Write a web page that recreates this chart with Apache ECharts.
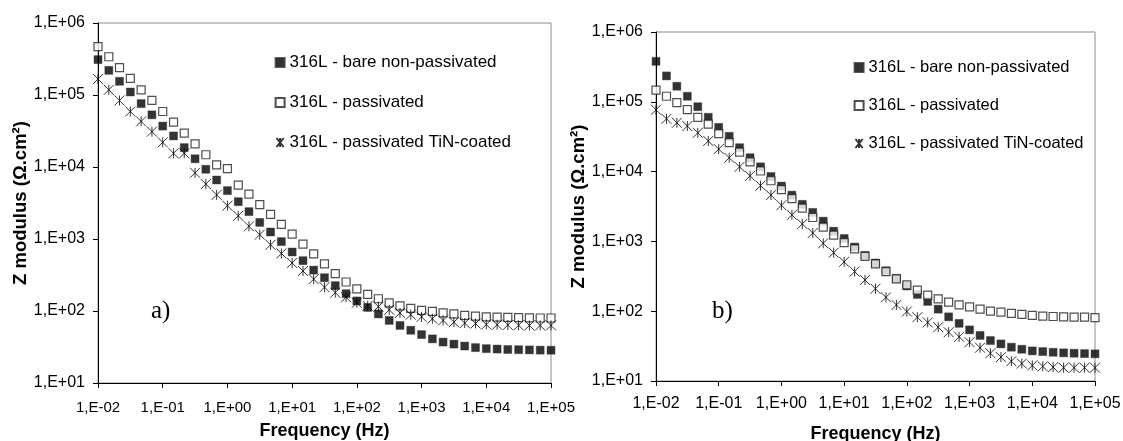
<!DOCTYPE html>
<html>
<head>
<meta charset="utf-8">
<script src="https://cdn.jsdelivr.net/npm/echarts@6/dist/echarts.min.js"></script>
<style>
  html, body { margin: 0; padding: 0; background: #fff; }
  #chart { width: 1123px; height: 441px; }
</style>
</head>
<body>
<div id="chart"></div>
<script>
/* frecuencias (Hz), 6 puntos por decada */
const freq = [
    0.01, 0.0147, 0.0215, 0.0316, 0.0464, 0.0681,
    0.1, 0.147, 0.215, 0.316, 0.464, 0.681,
    1, 1.47, 2.15, 3.16, 4.64, 6.81,
    10, 14.7, 21.5, 31.6, 46.4, 68.1,
    100, 147, 215, 316, 464, 681,
    1000, 1470, 2150, 3160, 4640, 6810,
    10000, 14700, 21500, 31600, 46400, 68100,
    100000
];

const seriesNames = ['316L - bare non-passivated', '316L - passivated', '316L - passivated TiN-coated'];

const xTickLabels = ['1,E-02', '1,E-01', '1,E+00', '1,E+01', '1,E+02', '1,E+03', '1,E+04', '1,E+05'];
const yTickLabels = ['1,E+01', '1,E+02', '1,E+03', '1,E+04', '1,E+05', '1,E+06'];

/* panel a) */
const bareA = [
    3.1e5, 2.2e5, 1.55e5, 1.1e5, 7.6e4, 5.3e4, 3.7e4, 2.7e4, 1.86e4, 1.3e4,
    9.3e3, 6.6e3, 4.7e3, 3.3e3, 2.4e3, 1.7e3, 1.25e3, 920, 660, 500,
    370, 290, 225, 174, 138, 112, 91, 74, 63, 54,
    47, 41, 37, 34.7, 32.6, 31, 30, 29.6, 29.2, 29,
    28.8, 28.6, 28.5
];
const passA = [
    4.7e5, 3.4e5, 2.4e5, 1.7e5, 1.18e5, 8.4e4, 5.9e4, 4.2e4, 2.95e4, 2.1e4,
    1.48e4, 1.07e4, 9.5e3, 5.6e3, 4.2e3, 3.0e3, 2.2e3, 1.6e3, 1.17e3, 850,
    620, 450, 330, 253, 203, 170, 148, 130, 118, 109,
    102, 99, 94, 91, 87, 85, 83, 82, 81.5, 81,
    80.5, 80, 80
];
const tinA = [
    1.67e5, 1.18e5, 8.4e4, 5.9e4, 4.3e4, 3.1e4, 2.2e4, 1.55e4, 1.55e4, 8.3e3,
    5.8e3, 4.1e3, 2.9e3, 2.1e3, 1.5e3, 1.15e3, 830, 630, 465, 360,
    277, 214, 180, 155, 130, 118, 115, 104, 94, 89,
    83, 78, 74, 70, 68, 67, 65, 64.5, 64, 63.5,
    63, 63, 63
];

/* panel b) */
const bareB = [
    3.8e5, 2.35e5, 1.67e5, 1.2e5, 8.5e4, 6.0e4, 4.3e4, 3.2e4, 2.2e4, 1.58e4,
    1.17e4, 8.5e3, 6.2e3, 4.6e3, 3.4e3, 2.6e3, 1.95e3, 1.4e3, 1.1e3, 830,
    630, 490, 380, 295, 230, 174, 138, 107, 83, 67,
    54, 45, 38, 34, 30.5, 28.5, 27, 26.4, 25.8, 25.3,
    25, 24.7, 24.5
];
const passB = [
    1.47e5, 1.2e5, 9.7e4, 7.7e4, 6.0e4, 4.8e4, 3.5e4, 2.6e4, 1.9e4, 1.38e4,
    1.02e4, 7.4e3, 5.5e3, 4.1e3, 3.0e3, 2.2e3, 1.6e3, 1.23e3, 960, 780,
    610, 475, 370, 290, 238, 200, 170, 150, 135, 123,
    115, 107, 100, 97, 93, 90, 87, 85, 84, 83,
    82, 82, 81
];
const tinB = [
    7.7e4, 5.7e4, 5.0e4, 4.5e4, 3.6e4, 2.75e4, 2.1e4, 1.58e4, 1.17e4, 8.7e3,
    6.3e3, 4.6e3, 3.3e3, 2.4e3, 1.78e3, 1.32e3, 940, 690, 510, 370,
    280, 210, 158, 123, 99, 82, 69, 59, 50, 43,
    36, 30, 25, 22, 19.2, 17.8, 16.7, 16.2, 15.8, 15.5,
    15.5, 15.5, 15.5
];

const FONT = "'Liberation Sans', Arial, sans-serif";
const STAR = 'path://M1,0L9,10M1,10L9,0M5,0L5,10';

function toPairs(vals) {
    return freq.map((f, i) => [f, vals[i]]);
}

function xLabel(v) {
    return xTickLabels[Math.round(Math.log10(v)) + 2] || '';
}
function yLabel(v) {
    return yTickLabels[Math.round(Math.log10(v)) - 1] || '';
}

function makeX(idx, fs, margin, gap) {
    return {
        type: 'log', gridIndex: idx, min: 0.01, max: 100000, logBase: 10, splitNumber: 7,
        axisLine: { show: true, onZero: false, lineStyle: { color: '#000', width: 1 } },
        axisTick: { show: true, length: 5, lineStyle: { color: '#000' } },
        minorTick: { show: false },
        splitLine: { show: false },
        axisLabel: { formatter: xLabel, color: '#000', fontSize: fs, fontFamily: FONT, margin: margin },
        name: 'Frequency (Hz)', nameLocation: 'middle', nameGap: gap,
        nameTextStyle: { color: '#000', fontSize: 18, fontWeight: 'bold', fontFamily: FONT }
    };
}

function makeY(idx, gap) {
    return {
        type: 'log', gridIndex: idx, min: 10, max: 1000000, logBase: 10, splitNumber: 5,
        axisLine: { show: true, onZero: false, lineStyle: { color: '#000', width: 1 } },
        axisTick: { show: true, length: 5, lineStyle: { color: '#000' } },
        splitLine: { show: false },
        axisLabel: { formatter: yLabel, color: '#000', fontSize: 16, fontFamily: FONT, margin: 13 },
        name: 'Z modulus (Ω.cm²)', nameLocation: 'middle', nameGap: gap,
        nameTextStyle: { color: '#000', fontSize: 18.5, fontWeight: 'bold', fontFamily: FONT }
    };
}

function makeSeries(idx, bare, pass, tin) {
    return [
        {
            name: seriesNames[0], type: 'scatter', xAxisIndex: idx, yAxisIndex: idx,
            symbol: 'rect', symbolSize: 8,
            itemStyle: { color: '#000', borderColor: '#333', borderWidth: 0.5 },
            data: toPairs(bare)
        },
        {
            name: seriesNames[1], type: 'scatter', xAxisIndex: idx, yAxisIndex: idx,
            symbol: 'rect', symbolSize: 8,
            itemStyle: { color: '#fff', borderColor: '#222', borderWidth: 1.2 },
            data: toPairs(pass)
        },
        {
            name: seriesNames[2], type: 'scatter', xAxisIndex: idx, yAxisIndex: idx,
            symbol: STAR, symbolSize: 10,
            itemStyle: { color: 'none', borderColor: '#000', borderWidth: 1 },
            data: toPairs(tin)
        }
    ];
}

const chart = echarts.init(document.getElementById('chart'), null, { renderer: 'canvas' });

const gridStyle = {
    show: true, borderColor: '#8c8c8c', borderWidth: 1, backgroundColor: 'transparent',
    containLabel: false, outerBoundsMode: 'none'
};

const option = {
    animation: false,
    backgroundColor: '#fff',
    grid: [
        Object.assign({ left: 98, top: 23, width: 453, height: 360 }, gridStyle),
        Object.assign({ left: 656, top: 32, width: 439, height: 349 }, gridStyle)
    ],
    xAxis: [makeX(0, 15, 17, 39), makeX(1, 16, 15, 44)],
    yAxis: [makeY(0, 63), makeY(1, 63)],
    legend: [
        {
            orient: 'vertical', left: 269, top: 49, itemWidth: 9, itemHeight: 9, itemGap: 23,
            data: seriesNames,
            textStyle: { color: '#000', fontSize: 17, fontFamily: FONT }
        },
        {
            orient: 'vertical', left: 848, top: 54, itemWidth: 9, itemHeight: 9, itemGap: 21,
            data: seriesNames,
            textStyle: { color: '#000', fontSize: 16.5, fontFamily: FONT }
        }
    ],
    graphic: [
        { type: 'text', left: 151, top: 299, style: { text: 'a)', font: "25px 'Liberation Serif', 'Times New Roman', serif", fill: '#000' } },
        { type: 'text', left: 712, top: 299, style: { text: 'b)', font: "25px 'Liberation Serif', 'Times New Roman', serif", fill: '#000' } }
    ],
    series: makeSeries(0, bareA, passA, tinA).concat(makeSeries(1, bareB, passB, tinB))
};

chart.setOption(option);
chart.resize();
</script>
</body>
</html>
